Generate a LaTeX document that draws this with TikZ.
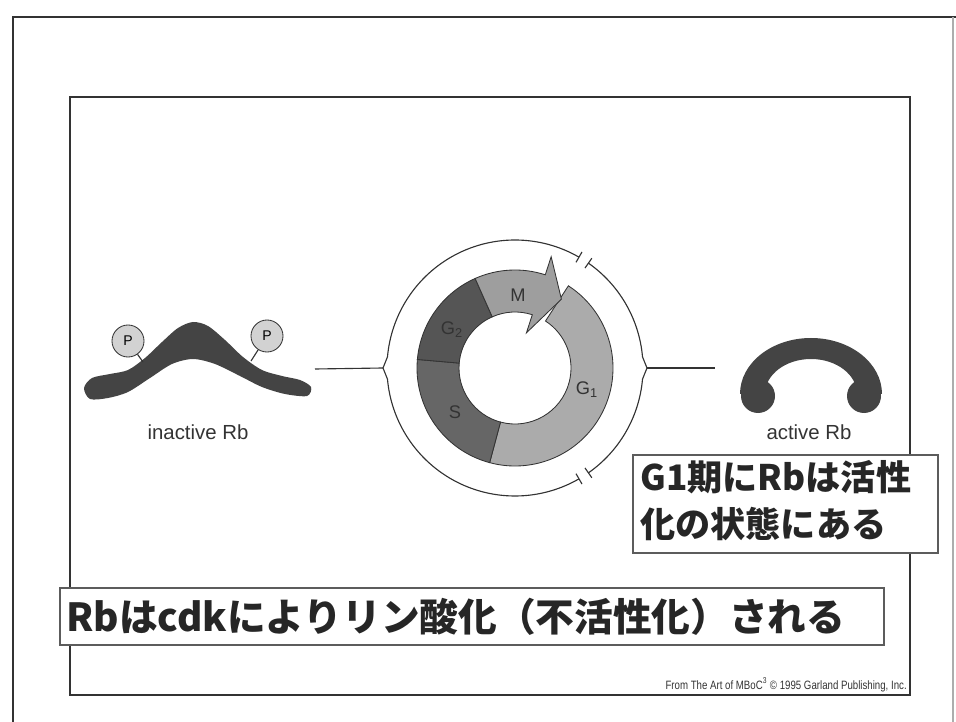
\documentclass[tikz,border=0pt]{standalone}
\usepackage{fontspec}
\setmainfont{Liberation Sans}
\newfontfamily\jpfont{Noto Sans CJK JP}
\newfontfamily\credfont[FakeStretch=0.8]{Liberation Sans}
\definecolor{ink}{HTML}{333333}
\definecolor{rbgray}{HTML}{444444}
\definecolor{gonecol}{HTML}{ABABAB}
\definecolor{mcol}{HTML}{9E9E9E}
\definecolor{gtwocol}{HTML}{555555}
\definecolor{scol}{HTML}{666666}
\definecolor{pcol}{HTML}{D2D2D2}

\begin{document}
\begin{tikzpicture}[x=0.025cm,y=-0.025cm,
    outerline/.style={draw=ink,line width=1.3pt},
    innerline/.style={draw=ink,line width=1.1pt},
    textbox/.style={draw=ink!80,line width=0.8pt,fill=white},
    phase/.style={draw=ink,line width=0.6pt},
    bracket/.style={draw=ink,line width=0.8pt},
    link/.style={draw=ink,line width=0.8pt},
    lbl/.style={text=ink,font=\fontsize{14.5}{17}\selectfont},
    phaselbl/.style={text=ink,font=\fontsize{13}{15}\selectfont},
    pdot/.style={circle,draw=ink,line width=0.6pt,fill=pcol,inner sep=0pt,
      minimum size=0.8cm,font=\fontsize{10}{12}\selectfont}]
  \useasboundingbox (0,0) rectangle (956,722);

  % frames
  \draw[outerline] (13,722) -- (13,17) -- (956,17);
  \draw[outerline,draw=ink!40] (953,17) -- (953,722);
  \draw[innerline] (70,97) rectangle (910,695);

  % inactive Rb
  \coordinate (p1foot) at (143,362);
  \coordinate (p2foot) at (251,361);
  \fill[rbgray] plot[smooth cycle] coordinates {
    (84,388) (92,378) (110,374) (128,370) (145,358) (162,342) (178,328)
    (193,322) (208,326) (225,340) (243,357) (262,370) (282,376) (300,380)
    (311,387) (307,396) (285,394) (262,387) (240,376) (215,364) (193,359)
    (172,364) (150,378) (128,392) (108,398) (90,399)};
  \node[pdot] (p1) at (128,341) {P};
  \node[pdot] (p2) at (267,336) {P};
  \draw[link] (p1) -- (p1foot);
  \draw[link] (p2) -- (p2foot);
  \node[lbl] (inactlbl) at (198,432) {inactive Rb};

  % active Rb
  \fill[rbgray] (740,394) arc[start angle=180,end angle=360,x radius=71,y radius=56]
    -- (857,394) arc[start angle=0,end angle=-180,x radius=46,y radius=35] -- cycle;
  \fill[rbgray] (758,396) circle[radius=17];
  \fill[rbgray] (864,396) circle[radius=17];
  \node[lbl] (actlbl) at (809,432) {active Rb};

  % cell cycle ring
  \begin{scope}[shift={(515,368)}]
    \filldraw[phase,fill=gonecol] (-57:98) arc[start angle=-57,end angle=105,radius=98]
      -- (105:56) arc[start angle=105,end angle=-57,radius=56] -- cycle;
    \filldraw[phase,fill=scol] (105:98) arc[start angle=105,end angle=185,radius=98]
      -- (185:56) arc[start angle=185,end angle=105,radius=56] -- cycle;
    \filldraw[phase,fill=gtwocol] (185:98) arc[start angle=185,end angle=246,radius=98]
      -- (246:56) arc[start angle=246,end angle=185,radius=56] -- cycle;
    \filldraw[phase,fill=mcol] (246:98) arc[start angle=246,end angle=288,radius=98]
      -- (288:117) -- (304:83) -- (288:37) -- (288:56)
      arc[start angle=288,end angle=246,radius=56] -- cycle;
    \node[phaselbl] (mlbl) at (3,-73) {M};
    \node[phaselbl] (gtwolbl) at (-63,-38) {G\textsubscript{2}};
    \node[phaselbl] (slbl) at (-60,44) {S};
    \node[phaselbl] (gonelbl) at (72,22) {G\textsubscript{1}};

    % bracket around the ring
    \coordinate (lcusp) at (180:132);
    \coordinate (rcusp) at (0:132);
    \draw[bracket] (-60:128) arc[start angle=-60,end angle=-175,radius=128]
      -- (lcusp) -- (-185:128) arc[start angle=-185,end angle=-300,radius=128];
    \draw[bracket] (-55:128) arc[start angle=-55,end angle=-5,radius=128]
      -- (rcusp) -- (5:128) arc[start angle=5,end angle=55,radius=128];
    \foreach \a in {-60,-55,55,60}
      \draw[bracket] (\a:122) -- (\a:134);
  \end{scope}

  % connectors
  \coordinate (inact) at (315,369);
  \coordinate (act) at (715,368);
  \draw[link] (inact) -- (lcusp);
  \draw[link] (rcusp) -- (act);

  % notes
  \draw[textbox] (60,588) rectangle (884,645);
  \node[anchor=west,inner sep=0pt,text=black!85,
    font=\jpfont\bfseries\fontsize{27.5}{32}\selectfont] (rbnote) at (66,617)
    {Rbはcdkによりリン酸化（不活性化）される};
  \draw[textbox] (633,455) rectangle (938,553);
  \node[anchor=north west,inner sep=0pt,align=left,text=black!85,
    font=\jpfont\bfseries\fontsize{25}{33.5}\selectfont] (g1note) at (640,460)
    {G1期にRbは活性\\化の状態にある};
  \node[anchor=base east,inner sep=0pt,text=ink,
    font=\credfont\fontsize{8.6}{10}\selectfont] (credit) at (907,689)
    {From The Art of MBoC\textsuperscript{3} © 1995 Garland Publishing, Inc.};
\end{tikzpicture}
\end{document}
